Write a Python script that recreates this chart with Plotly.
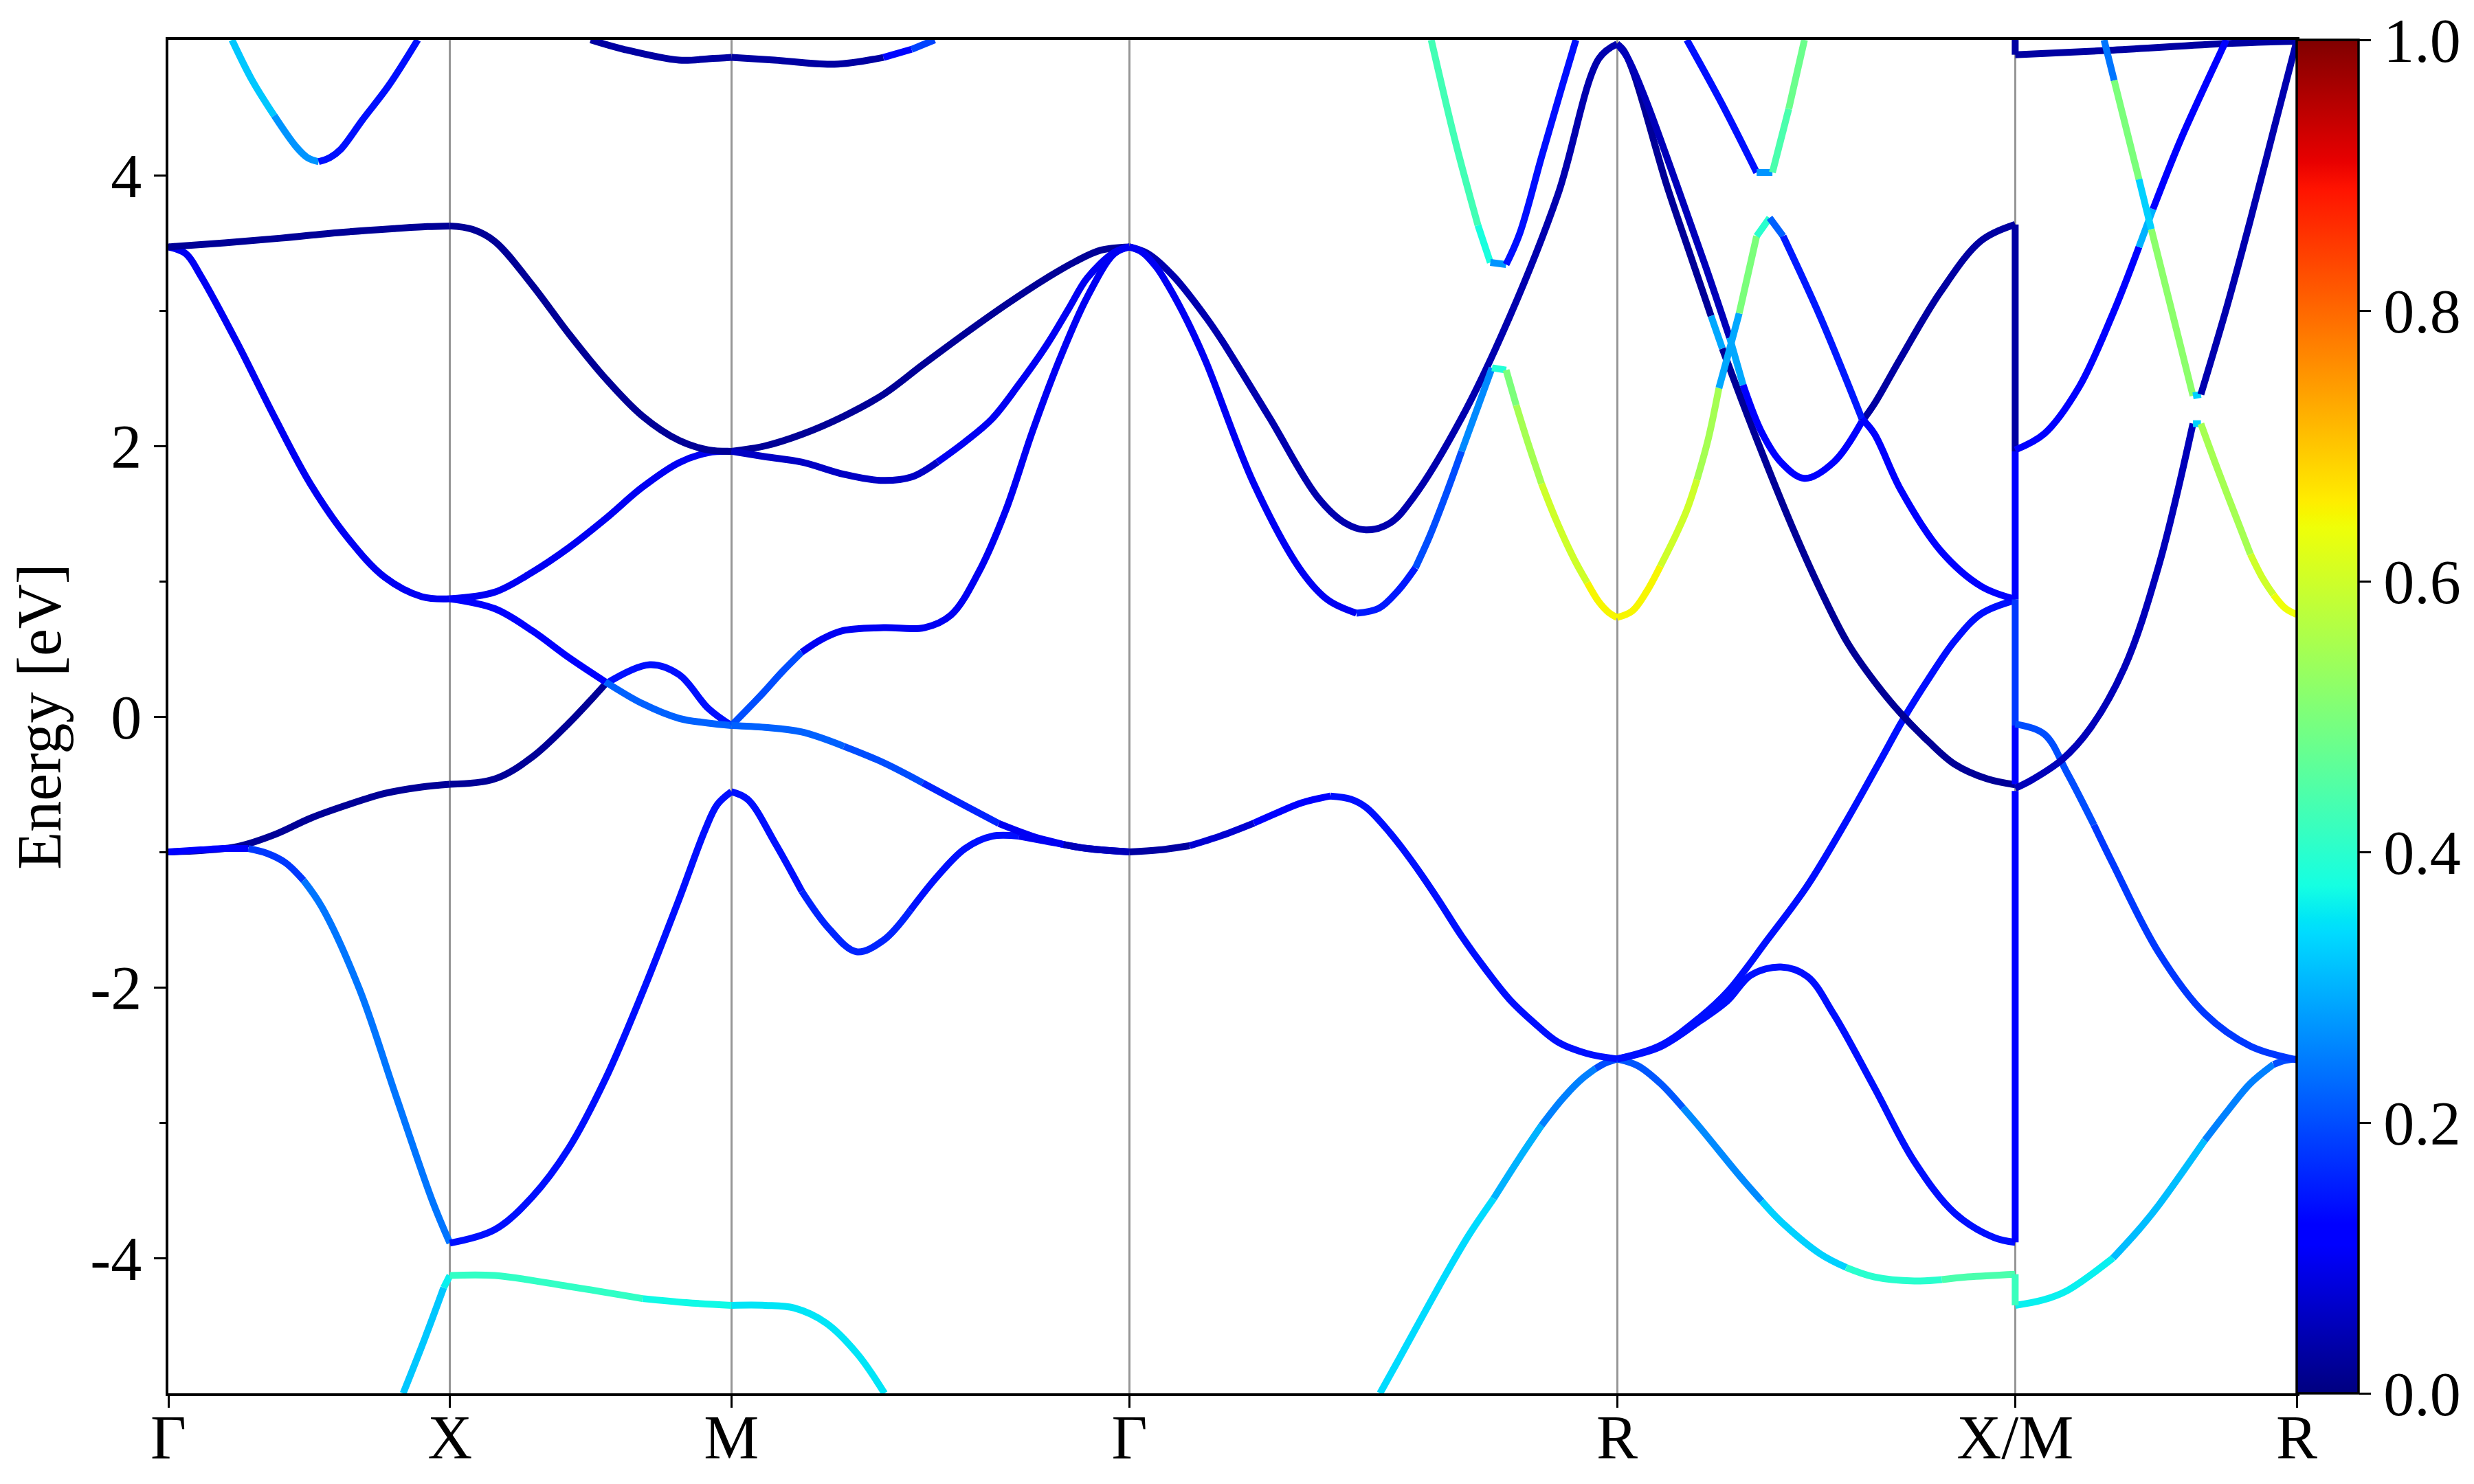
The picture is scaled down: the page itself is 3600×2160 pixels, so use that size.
import plotly.graph_objects as go

# ---------------- axis data ----------------
kpath_ticks = [0.0, 0.5, 1.0, 1.7071, 2.5731, 3.2802, 3.7802]
kpath_labels = ["Γ", "X", "M", "Γ", "R", "X/M", "R"]
energy_ticks = [-4, -2, 0, 2, 4]
energy_tick_text = ["-4", "-2", "0", "2", "4"]
energy_minor_ticks = [-3, -1, 1, 3]
weight_ticks = [0.0, 0.2, 0.4, 0.6, 0.8, 1.0]
weight_tick_text = ["0.0", "0.2", "0.4", "0.6", "0.8", "1.0"]

# ---------------- band data: (k, E [eV], weight of segment starting here) ----------------
band_f_gxm = [(0.417, -5.0, 0.32), (0.455, -4.60, 0.32), (0.489, -4.22, 0.36), (0.5, -4.13, 0.41),
              (0.58, -4.13, 0.41), (0.711, -4.21, 0.41), (0.842, -4.30, 0.37), (0.92, -4.33, 0.37),
              (1.0, -4.35, 0.35), (1.06, -4.35, 0.35), (1.112, -4.37, 0.35), (1.168, -4.48, 0.35),
              (1.224, -4.71, 0.35), (1.272, -5.0, 0.35)]
band_c = [(0.0, -1.0, 0.02), (0.057, -0.99, 0.02), (0.123, -0.96, 0.02), (0.19, -0.87, 0.02),
          (0.253, -0.75, 0.02), (0.32, -0.65, 0.02), (0.384, -0.568, 0.02), (0.45, -0.52, 0.02),
          (0.5, -0.50, 0.02), (0.58, -0.46, 0.02), (0.646, -0.30, 0.02), (0.711, -0.05, 0.02),
          (0.776, 0.24, 0.14), (0.855, 0.383, 0.14), (0.907, 0.31, 0.14), (0.959, 0.06, 0.14),
          (1.0, -0.066, 0.14)]
band_d = [(0.0, -1.0, 0.12), (0.057, -0.985, 0.12), (0.1, -0.975, 0.12), (0.142, -0.975, 0.18),
          (0.175, -1.01, 0.18), (0.208, -1.08, 0.18), (0.24, -1.21, 0.24), (0.273, -1.41, 0.24),
          (0.339, -2.01, 0.24), (0.404, -2.80, 0.24), (0.469, -3.58, 0.24), (0.5, -3.89, 0.14),
          (0.58, -3.79, 0.14), (0.646, -3.55, 0.14), (0.711, -3.19, 0.14), (0.776, -2.68, 0.14),
          (0.842, -2.04, 0.14), (0.907, -1.35, 0.14), (0.953, -0.84, 0.14), (0.975, -0.65, 0.14),
          (1.0, -0.555, 0.14), (1.029, -0.612, 0.14), (1.077, -0.93, 0.14), (1.125, -1.29, 0.16),
          (1.173, -1.565, 0.16), (1.222, -1.737, 0.16), (1.27, -1.653, 0.16), (1.318, -1.43, 0.14),
          (1.366, -1.18, 0.14), (1.415, -0.975, 0.14), (1.463, -0.884, 0.14), (1.511, -0.884, 0.1),
          (1.57, -0.93, 0.1), (1.632, -0.975, 0.1), (1.7071, -1.0, 0.1)]
band_b = [(0.0, 3.47, 0.10), (0.031, 3.42, 0.10), (0.057, 3.26, 0.10), (0.123, 2.755, 0.10),
          (0.188, 2.217, 0.10), (0.253, 1.714, 0.10), (0.319, 1.318, 0.10), (0.384, 1.03, 0.10),
          (0.45, 0.886, 0.10), (0.5, 0.87, 0.10), (0.58, 0.92, 0.10), (0.646, 1.066, 0.10),
          (0.711, 1.247, 0.10), (0.776, 1.46, 0.10), (0.842, 1.695, 0.10), (0.907, 1.876, 0.10),
          (0.959, 1.95, 0.10), (1.0, 1.96, 0.10)]
band_b_low = [(0.5, 0.87, 0.12), (0.58, 0.797, 0.12), (0.646, 0.635, 0.12), (0.711, 0.437, 0.12),
              (0.776, 0.257, 0.22), (0.842, 0.096, 0.22), (0.907, -0.013, 0.22), (0.959, -0.048, 0.22),
              (1.0, -0.066, 0.22)]
band_a = [(0.0, 3.47, 0.02), (0.1, 3.50, 0.02), (0.2, 3.535, 0.02), (0.3, 3.575, 0.02),
          (0.4, 3.605, 0.02), (0.46, 3.62, 0.02), (0.5, 3.625, 0.02), (0.54, 3.60, 0.02),
          (0.58, 3.51, 0.02), (0.646, 3.19, 0.02), (0.711, 2.83, 0.02), (0.776, 2.50, 0.02),
          (0.842, 2.22, 0.02), (0.907, 2.04, 0.02), (0.959, 1.97, 0.02), (1.0, 1.96, 0.02)]
band_e_top = [(0.113, 5.0, 0.32), (0.149, 4.70, 0.32), (0.188, 4.44, 0.27), (0.227, 4.21, 0.27),
              (0.247, 4.13, 0.27), (0.267, 4.10, 0.14), (0.287, 4.13, 0.14), (0.306, 4.19, 0.14),
              (0.345, 4.41, 0.14), (0.391, 4.66, 0.14), (0.443, 5.0, 0.14)]
band_t1 = [(0.75, 5.0, 0.03), (0.809, 4.93, 0.03), (0.907, 4.85, 0.03), (0.96, 4.86, 0.03),
           (1.0, 4.87, 0.03), (1.077, 4.85, 0.03), (1.183, 4.82, 0.03), (1.27, 4.87, 0.13),
           (1.32, 4.93, 0.19), (1.361, 5.0, 0.19)]
band_a_mg = [(1.0, 1.96, 0.02), (1.06, 2.0, 0.02), (1.125, 2.085, 0.02), (1.2, 2.22, 0.02),
             (1.27, 2.38, 0.02), (1.34, 2.6, 0.02), (1.415, 2.83, 0.02), (1.49, 3.05, 0.02),
             (1.56, 3.24, 0.02), (1.61, 3.36, 0.02), (1.656, 3.446, 0.02), (1.7071, 3.47, 0.02)]
band_b_mg = [(1.0, 1.96, 0.06), (1.06, 1.92, 0.06), (1.125, 1.88, 0.06), (1.2, 1.79, 0.06),
             (1.265, 1.745, 0.06), (1.32, 1.77, 0.06), (1.366, 1.88, 0.1), (1.415, 2.03, 0.1),
             (1.463, 2.2, 0.1), (1.51, 2.45, 0.1), (1.56, 2.745, 0.1), (1.6, 3.02, 0.1),
             (1.632, 3.24, 0.1), (1.68, 3.43, 0.1), (1.7071, 3.47, 0.1)]
band_p_mg = [(1.0, -0.066, 0.2), (1.053, 0.16, 0.2), (1.09, 0.33, 0.2), (1.125, 0.476, 0.1),
             (1.16, 0.57, 0.1), (1.198, 0.635, 0.1), (1.27, 0.657, 0.1), (1.343, 0.657, 0.1),
             (1.39, 0.75, 0.1), (1.439, 1.065, 0.1), (1.487, 1.52, 0.1), (1.535, 2.11, 0.1),
             (1.584, 2.65, 0.1), (1.632, 3.1, 0.1), (1.68, 3.42, 0.1), (1.7071, 3.47, 0.1)]
band_q_mg = [(1.0, -0.066, 0.22), (1.06, -0.08, 0.22), (1.125, -0.114, 0.22), (1.2, -0.22, 0.2),
             (1.27, -0.34, 0.2), (1.34, -0.49, 0.16), (1.415, -0.658, 0.16), (1.475, -0.79, 0.1),
             (1.535, -0.884, 0.1), (1.59, -0.945, 0.05), (1.632, -0.975, 0.05), (1.7071, -1.0, 0.05)]
band_g1 = [(1.7071, 3.47, 0.04), (1.74, 3.42, 0.04), (1.786, 3.25, 0.04), (1.843, 2.95, 0.04),
           (1.871, 2.78, 0.04), (1.956, 2.207, 0.04), (2.041, 1.623, 0.04), (2.09, 1.43, 0.04),
           (2.127, 1.379, 0.04), (2.17, 1.43, 0.04), (2.212, 1.623, 0.04), (2.297, 2.207, 0.04),
           (2.382, 2.95, 0.04), (2.468, 3.857, 0.04), (2.541, 4.863, 0.04), (2.5731, 4.97, 0.04)]
band_g2 = [(1.7071, 3.47, 0.1), (1.73, 3.43, 0.1), (1.755, 3.32, 0.1), (1.775, 3.19, 0.1),
           (1.81, 2.92, 0.1), (1.843, 2.62, 0.1), (1.928, 1.72, 0.1), (2.013, 1.072, 0.1),
           (2.06, 0.86, 0.1), (2.11, 0.764, 0.15), (2.15, 0.80, 0.15), (2.184, 0.93, 0.15),
           (2.215, 1.10, 0.2), (2.24, 1.33, 0.2), (2.27, 1.65, 0.2), (2.297, 1.96, 0.26),
           (2.326, 2.29, 0.26), (2.351, 2.577, 0.39), (2.376, 2.56, 0.39)]
band_g3 = [(2.376, 2.56, 0.5), (2.394, 2.30, 0.55), (2.415, 2.02, 0.55), (2.439, 1.72, 0.6),
           (2.465, 1.45, 0.6), (2.496, 1.17, 0.6), (2.52, 0.99, 0.65), (2.541, 0.846, 0.65),
           (2.558, 0.77, 0.65), (2.5731, 0.732, 0.65)]
band_g4 = [(2.243, 5.0, 0.43), (2.286, 4.246, 0.43), (2.326, 3.63, 0.38), (2.348, 3.355, 0.27),
           (2.376, 3.34, 0.14), (2.40, 3.567, 0.14), (2.44, 4.15, 0.14), (2.475, 4.65, 0.14),
           (2.50, 5.0, 0.14)]
band_g5 = [(1.7071, -1.0, 0.03), (1.76, -0.985, 0.03), (1.814, -0.954, 0.07), (1.87, -0.88, 0.07),
           (1.928, -0.787, 0.11), (1.97, -0.71, 0.11), (2.013, -0.637, 0.11), (2.064, -0.587, 0.14),
           (2.1, -0.61, 0.14), (2.127, -0.67, 0.14), (2.17, -0.86, 0.14), (2.212, -1.088, 0.14),
           (2.255, -1.35, 0.14), (2.297, -1.622, 0.14), (2.34, -1.87, 0.14), (2.382, -2.089, 0.14),
           (2.425, -2.26, 0.14), (2.468, -2.405, 0.14), (2.52, -2.49, 0.14), (2.5731, -2.53, 0.14)]
band_f_gr = [(2.152, -5.0, 0.34), (2.184, -4.76, 0.34), (2.269, -4.12, 0.34), (2.31, -3.83, 0.34),
             (2.354, -3.56, 0.30), (2.40, -3.26, 0.30), (2.439, -3.02, 0.25), (2.475, -2.83, 0.25),
             (2.507, -2.69, 0.25), (2.535, -2.60, 0.2), (2.552, -2.56, 0.2), (2.5731, -2.53, 0.2)]
band_f_rx = [(2.5731, -2.53, 0.21), (2.61, -2.58, 0.21), (2.65, -2.71, 0.21), (2.69, -2.89, 0.26),
             (2.721, -3.04, 0.26), (2.792, -3.40, 0.26), (2.83, -3.58, 0.33), (2.864, -3.73, 0.33),
             (2.934, -3.97, 0.33), (2.98, -4.07, 0.40), (3.03, -4.14, 0.40), (3.101, -4.17, 0.40),
             (3.15, -4.16, 0.44), (3.196, -4.14, 0.44), (3.2802, -4.12, 0.44)]
band_f_mr = [(3.2802, -4.35, 0.36), (3.33, -4.31, 0.36), (3.373, -4.24, 0.36), (3.454, -4.0, 0.31),
             (3.50, -3.79, 0.31), (3.535, -3.61, 0.31), (3.617, -3.13, 0.25), (3.66, -2.90, 0.25),
             (3.698, -2.71, 0.25), (3.739, -2.57, 0.2), (3.76, -2.54, 0.2), (3.7802, -2.53, 0.2)]
band_n1 = [(2.5731, 4.97, 0.02), (2.585, 4.92, 0.02), (2.602, 4.76, 0.02), (2.661, 3.93, 0.02),
           (2.70, 3.45, 0.02), (2.74, 2.96, 0.29), (2.76, 2.72, 0.02), (2.821, 2.05, 0.02),
           (2.887, 1.374, 0.02), (2.935, 0.93, 0.02), (2.982, 0.548, 0.02), (3.03, 0.26, 0.02),
           (3.077, 0.023, 0.02), (3.125, -0.18, 0.02), (3.173, -0.353, 0.02), (3.23, -0.46, 0.02),
           (3.2802, -0.504, 0.02)]
band_n2 = [(2.5731, 4.97, 0.05), (2.59, 4.88, 0.05), (2.62, 4.60, 0.05), (2.679, 3.93, 0.05),
           (2.73, 3.33, 0.05), (2.773, 2.80, 0.29), (2.797, 2.45, 0.11), (2.83, 2.10, 0.11),
           (2.864, 1.88, 0.11), (2.906, 1.76, 0.11), (2.958, 1.88, 0.11), (3.008, 2.18, 0.03),
           (3.03, 2.31, 0.03), (3.077, 2.65, 0.03), (3.148, 3.14, 0.03), (3.22, 3.517, 0.03),
           (3.2802, 3.636, 0.03)]
band_green_rx = [(2.5731, 0.732, 0.65), (2.60, 0.78, 0.65), (2.625, 0.92, 0.65), (2.65, 1.112, 0.6),
                 (2.675, 1.32, 0.6), (2.697, 1.526, 0.6), (2.715, 1.75, 0.55), (2.735, 2.05, 0.55),
                 (2.754, 2.427, 0.29), (2.772, 2.70, 0.29), (2.79, 2.98, 0.5), (2.821, 3.55, 0.4),
                 (2.844, 3.685, 0.22), (2.868, 3.55, 0.15), (2.934, 2.953, 0.15), (3.008, 2.2, 0.12),
                 (3.03, 2.09, 0.12), (3.077, 1.675, 0.12), (3.148, 1.224, 0.12), (3.22, 0.962, 0.12),
                 (3.2802, 0.867, 0.12)]
band_rx_up = [(2.5731, -2.53, 0.14), (2.65, -2.43, 0.14), (2.721, -2.22, 0.14), (2.77, -2.03, 0.14),
              (2.84, -1.65, 0.14), (2.911, -1.25, 0.14), (2.982, -0.76, 0.14), (3.044, -0.30, 0.14),
              (3.08, -0.03, 0.14), (3.125, 0.27, 0.14), (3.173, 0.56, 0.14), (3.22, 0.76, 0.14),
              (3.2802, 0.86, 0.14)]
band_rx_hump = [(2.5731, -2.53, 0.14), (2.65, -2.44, 0.14), (2.72, -2.25, 0.14), (2.769, -2.1, 0.14),
                (2.811, -1.91, 0.14), (2.864, -1.85, 0.14), (2.911, -1.92, 0.14), (2.958, -2.2, 0.14),
                (3.03, -2.74, 0.14), (3.10, -3.28, 0.14), (3.173, -3.67, 0.14), (3.243, -3.85, 0.14),
                (3.2802, -3.885, 0.14)]
band_rx_top = [(2.697, 5.0, 0.14), (2.759, 4.53, 0.14), (2.821, 4.02, 0.27), (2.849, 4.02, 0.44),
               (2.878, 4.49, 0.48), (2.906, 5.0, 0.48)]
band_mr_top = [(3.2802, 4.89, 0.03), (3.454, 4.924, 0.03), (3.657, 4.973, 0.03), (3.7802, 4.99, 0.03)]
band_mr1 = [(3.2802, 1.97, 0.12), (3.332, 2.09, 0.12), (3.393, 2.43, 0.12), (3.454, 2.98, 0.12),
            (3.50, 3.47, 0.3), (3.525, 3.75, 0.12), (3.576, 4.28, 0.12), (3.653, 4.98, 0.12),
            (3.655, 5.0, 0.12)]
band_mr2 = [(3.438, 5.0, 0.24), (3.456, 4.70, 0.5), (3.50, 3.97, 0.33), (3.522, 3.60, 0.52),
            (3.56, 2.97, 0.52), (3.596, 2.37, 0.33), (3.61, 2.38, 0.04), (3.657, 3.04, 0.04),
            (3.698, 3.67, 0.04), (3.739, 4.33, 0.04), (3.7802, 4.99, 0.04)]
band_mr3 = [(3.2802, -0.53, 0.05), (3.311, -0.465, 0.05), (3.364, -0.316, 0.05), (3.413, -0.089, 0.05),
            (3.474, 0.36, 0.05), (3.535, 1.112, 0.05), (3.596, 2.164, 0.33), (3.61, 2.164, 0.55),
            (3.635, 1.88, 0.55), (3.657, 1.64, 0.55), (3.698, 1.2, 0.6), (3.72, 1.02, 0.6),
            (3.739, 0.9, 0.64), (3.76, 0.80, 0.64), (3.7802, 0.754, 0.64)]
band_mr4 = [(3.2802, -0.055, 0.2), (3.332, -0.13, 0.2), (3.373, -0.42, 0.2), (3.42, -0.80, 0.18),
            (3.454, -1.09, 0.18), (3.535, -1.743, 0.18), (3.617, -2.195, 0.18), (3.698, -2.435, 0.18),
            (3.7802, -2.536, 0.18)]
# jumps drawn at the X|M discontinuity
jump_xm_1 = [(3.2802, -3.885, 0.12), (3.2802, -0.55, 0.12)]
jump_xm_2 = [(3.2802, -0.50, 0.12), (3.2802, -0.066, 0.12)]
jump_xm_3 = [(3.2802, -0.066, 0.18), (3.2802, 0.867, 0.18)]
jump_xm_4 = [(3.2802, 0.867, 0.12), (3.2802, 1.96, 0.12)]
jump_xm_5 = [(3.2802, 1.96, 0.03), (3.2802, 3.636, 0.03)]
jump_xm_6 = [(3.2802, -4.12, 0.42), (3.2802, -4.35, 0.42)]
jump_xm_7 = [(3.2802, 5.0, 0.03), (3.2802, 4.89, 0.03)]

all_bands = [band_f_gxm, band_f_gr, band_f_rx, band_f_mr,
             band_c, band_d, band_b, band_b_low, band_a, band_e_top, band_t1,
             band_a_mg, band_b_mg, band_p_mg, band_q_mg,
             band_g5, band_g1, band_g2, band_g3, band_g4,
             band_rx_hump, band_rx_up, band_n1, band_n2, band_green_rx, band_rx_top,
             jump_xm_1, jump_xm_2, jump_xm_3, jump_xm_4, jump_xm_5, jump_xm_6, jump_xm_7,
             band_mr_top, band_mr4, band_mr3, band_mr1, band_mr2]

# ---------------- jet colormap ----------------
JET_R = [(0, 0), (0.35, 0), (0.66, 1), (0.89, 1), (1, 0.5)]
JET_G = [(0, 0), (0.125, 0), (0.375, 1), (0.64, 1), (0.91, 0), (1, 0)]
JET_B = [(0, 0.5), (0.11, 1), (0.34, 1), (0.65, 0), (1, 0)]


def _lin(v, pts):
    for (x0, y0), (x1, y1) in zip(pts[:-1], pts[1:]):
        if v <= x1:
            return y0 + (y1 - y0) * (v - x0) / (x1 - x0)
    return pts[-1][1]


def jet(v):
    v = min(max(v, 0.0), 1.0)
    return "rgb(%d,%d,%d)" % tuple(int(round(255 * _lin(v, c))) for c in (JET_R, JET_G, JET_B))


jet_breaks = [0.0, 0.11, 0.125, 0.34, 0.35, 0.375, 0.64, 0.65, 0.66, 0.89, 0.91, 1.0]
jet_scale = [[b, jet(b)] for b in jet_breaks]

FONT = "Liberation Serif, Times New Roman, serif"
LW = 10


def is_sym(k):
    return any(abs(k - t) < 1e-6 for t in kpath_ticks)


fig = go.Figure()


def add_band(pts):
    n = len(pts)
    i = 0
    while i < n - 1:
        w = pts[i][2]
        j = i + 1
        while j < n - 1 and pts[j][2] == w and not (is_sym(pts[j][0]) and pts[j][0] != pts[i][0]):
            j += 1
        seg = pts[i:j + 1]
        fig.add_trace(go.Scatter(
            x=[p[0] for p in seg], y=[p[1] for p in seg], mode="lines",
            line=dict(color=jet(w), width=LW, shape="spline", smoothing=1.0),
            hoverinfo="skip", showlegend=False))
        i = j


for b in all_bands:
    add_band(b)

# colorbar carrier
fig.add_trace(go.Scatter(
    x=[None], y=[None], mode="markers", showlegend=False, hoverinfo="skip",
    marker=dict(color=[0.5], cmin=0, cmax=1, colorscale=jet_scale, showscale=True,
                colorbar=dict(thickness=90, len=1.0, lenmode="fraction", y=0.5, yanchor="middle",
                              x=1.0, xanchor="left", xpad=0, ypad=0,
                              outlinewidth=3.5, outlinecolor="black",
                              ticks="outside", ticklen=17, tickwidth=3, tickcolor="black",
                              tickvals=weight_ticks, ticktext=weight_tick_text,
                              tickfont=dict(family=FONT, size=90, color="black")))))

fig.update_layout(
    width=3600, height=2160,
    margin=dict(l=237, r=266, t=50, b=140, autoexpand=False),
    paper_bgcolor="white", plot_bgcolor="white",
    font=dict(family=FONT, size=90, color="black"),
    xaxis=dict(range=[kpath_ticks[0], kpath_ticks[-1]], tickmode="array", tickvals=kpath_ticks,
               ticktext=kpath_labels, ticks="outside", ticklen=17, tickwidth=3, tickcolor="black",
               ticklabelstandoff=-34,
               showline=True, linecolor="black", linewidth=3.5, mirror=True,
               showgrid=True, gridcolor="rgb(150,150,150)", gridwidth=3, zeroline=False,
               tickfont=dict(family=FONT, size=90, color="black")),
    yaxis=dict(range=[-5, 5], tickmode="array", tickvals=energy_ticks, ticktext=energy_tick_text,
               ticks="outside", ticklen=17, tickwidth=3, tickcolor="black",
               minor=dict(tickmode="array", tickvals=energy_minor_ticks, ticks="outside",
                          ticklen=9, tickwidth=3, tickcolor="black", showgrid=False),
               showline=True, linecolor="black", linewidth=3.5, mirror=True,
               showgrid=False, zeroline=False,
               title=dict(text="Energy [eV]", font=dict(family=FONT, size=90, color="black"), standoff=30),
               tickfont=dict(family=FONT, size=90, color="black")),
)

fig.write_html("out.html")
